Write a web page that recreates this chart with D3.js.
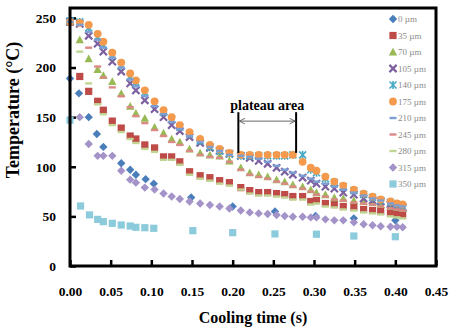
<!DOCTYPE html>
<html>
<head>
<meta charset="utf-8">
<script src="https://cdn.jsdelivr.net/npm/d3@7"></script>
<style>
  body { margin: 0; background: #fff; }
  svg { display: block; font-family: "Liberation Serif", "Times New Roman", serif; }
</style>
</head>
<body>
<div id="chart"></div>
<script>
// shared time base (s) for the densely sampled series
const times = [0.000, 0.012, 0.023, 0.034, 0.041, 0.052, 0.063, 0.074, 0.081, 0.092,
  0.104, 0.115, 0.125, 0.135, 0.147, 0.160, 0.172, 0.184, 0.196, 0.210,
  0.221, 0.232, 0.243, 0.254, 0.264, 0.274, 0.286, 0.296, 0.303, 0.314,
  0.325, 0.336, 0.349, 0.361, 0.372, 0.382, 0.394, 0.402, 0.409];

const temp35 = [null, 191, 176, 166, 157, 146, 139, 131, 128, 122, 119, 110, 110, 105, 95, 91, 89, 86, 84, 79,
  76, 74, 74, 73, 72, 70, 70, 65, 66, 63, 62, 60, 59, 57, 56, 55, 53, 52, 51];
const temp70 = [246, 228, 209, 198, 192, 186, 174, 161, 154, 149, 140, 134, 128, 125, 118, 114, 112, 111, 106, 99,
  94, 92, 90, 87, 85, 82, 80, 77, 74, 72, 69, 68, 66, 65, 64, 62, 60, 59, 58];
const temp105 = [246, 244, 232, 224, 216, 206, 196, 184, 177, 167, 158, 150, 142, 136, 130, 124, 119, 116, 113, 111,
  109, 106, 103, 99, 95, 92, 89, 86, 83, 80, 78, 74, 72, 68, 66, 65, 62, 60, 59];
const temp140 = [247, 246, 240, 231, 223, 212, 202, 191, 185, 175, 164, 155, 148, 140, 133, 126, 120, 116, 113, 111,
  111, 111, 111, 111, 111, 112, 112, 97, 94, 88, 84, 80, 76, 72, 69, 66, 64, 62, 60];
const temp175 = [246, 245, 243, 234, 226, 215, 205, 194, 187, 177, 166, 157, 150, 142, 135, 128, 122, 118, 114, 112,
  112, 112, 112, 112, 112, 112, 105, 99, 96, 90, 85, 81, 77, 73, 70, 67, 65, 63, 62];
const temp210 = [246, 243, 236, 228, 220, 210, 200, 188, 181, 171, 161, 153, 145, 138, 131, 125, 120, 116, 112, 111,
  110, 108, 105, 101, 97, 94, 91, 88, 85, 83, 80, 77, 74, 71, 68, 66, 63, 61, 60];
const temp245 = [null, null, 220, 201, 190, 180, 171, 160, 151, 144, 137, 131, 125, 122, 116, 112, 110, 109, 105, 97,
  92, 90, 88, 85, 83, 80, 78, 75, 72, 70, 67, 66, 64, 63, 62, 60, 58, 57, 56];
const temp280 = [null, 216, 184, 163, 153, 142, 135, 128, 124, 118, 115, 107, 107, 102, 92, 88, 86, 83, 81, 77,
  73, 71, 71, 70, 69, 67, 67, 62, 63, 60, 59, 57, 56, 54, 53, 52, 50, 49, 48];
const temp315 = [null, 150, 123, 111, 111, 111, 96, 87, 84, 79, 77, 73, 70, 67.5, 65, 63, 61.5, 60, 58, 56,
  54, 53, 52.4, 51.4, 50.4, 49.7, 49.7, 49, 49, 47, 46, 46, 44, 42, 41, 40, 39.6, 39.6, 39];

// sparse series with their own time stamps
const times0 = [0, 0.011, 0.023, 0.033, 0.041, 0.063, 0.074, 0.081, 0.093, 0.103, 0.149, 0.200, 0.252, 0.302, 0.349, 0.400];
const temp0 = [189, 174, 150, 133, 120, 103.5, 97, 92, 87.5, 83, 69, 60, 55, 50.5, 48, 46];
const times350 = [0, 0.013, 0.024, 0.034, 0.041, 0.052, 0.063, 0.074, 0.081, 0.092, 0.103, 0.151, 0.200, 0.252, 0.303, 0.349, 0.400];
const temp350 = [147, 60.5, 51.5, 47, 44.7, 43, 41.3, 40.3, 39, 38.6, 38, 35.6, 33.6, 32.3, 32, 30.2, 29.5];

const seriesNames = ["0 µm", "35 µm", "70 µm", "105 µm", "140 µm", "175 µm", "210 µm", "245 µm", "280 µm", "315 µm", "350 µm"];
const xTicks = [0, 0.05, 0.1, 0.15, 0.2, 0.25, 0.3, 0.35, 0.4, 0.45];
const yTicks = [0, 50, 100, 150, 200, 250];
const plateau = [0.207, 0.278];

const series = [
  { name: seriesNames[0], t: times0, v: temp0, color: "#4a7ebb", shape: "diamond" },
  { name: seriesNames[1], t: times, v: temp35, color: "#be4b48", shape: "square" },
  { name: seriesNames[2], t: times, v: temp70, color: "#98b954", shape: "triangle" },
  { name: seriesNames[3], t: times, v: temp105, color: "#7d60a0", shape: "x" },
  { name: seriesNames[4], t: times, v: temp140, color: "#46aac5", shape: "star" },
  { name: seriesNames[5], t: times, v: temp175, color: "#f59a4c", shape: "circle" },
  { name: seriesNames[6], t: times, v: temp210, color: "#7c9fd3", shape: "dash" },
  { name: seriesNames[7], t: times, v: temp245, color: "#dc8886", shape: "dash" },
  { name: seriesNames[8], t: times, v: temp280, color: "#bfd591", shape: "dash" },
  { name: seriesNames[9], t: times, v: temp315, color: "#a393c8", shape: "diamond" },
  { name: seriesNames[10], t: times350, v: temp350, color: "#8ccbdc", shape: "square" }
];

const width = 454, height = 332;
const margin = { left: 70, right: 18, top: 8, bottom: 66 };

const svg = d3.select("#chart").append("svg")
  .attr("width", width)
  .attr("height", height);

const x = d3.scaleLinear().domain([0, 0.45]).range([margin.left, width - margin.right]);
const y = d3.scaleLinear().domain([0, 260]).range([height - margin.bottom, margin.top]);

// marker drawing, centred at 0,0
function drawMarker(g, shape, color) {
  if (shape === "diamond") {
    g.append("path").attr("d", "M0,-4.2L4.2,0L0,4.2L-4.2,0Z").attr("fill", color);
  } else if (shape === "square") {
    g.append("rect").attr("x", -3.6).attr("y", -3.6).attr("width", 7.2).attr("height", 7.2).attr("fill", color);
  } else if (shape === "triangle") {
    g.append("path").attr("d", "M0,-4.2L4.2,3.6L-4.2,3.6Z").attr("fill", color);
  } else if (shape === "circle") {
    g.append("circle").attr("r", 3.9).attr("fill", color);
  } else if (shape === "x") {
    g.append("path").attr("d", "M-3.6,-3.6L3.6,3.6M3.6,-3.6L-3.6,3.6").attr("stroke", color).attr("stroke-width", 2.2);
  } else if (shape === "star") {
    g.append("path").attr("d", "M-3.5,-3.5L3.5,3.5M3.5,-3.5L-3.5,3.5M0,-4L0,4").attr("stroke", color).attr("stroke-width", 1.6);
  } else if (shape === "dash") {
    g.append("rect").attr("x", -3.5).attr("y", -1.2).attr("width", 7).attr("height", 2.4).attr("fill", color);
  }
}

// axes (inside ticks)
const xAxis = svg.append("g")
  .attr("transform", `translate(0,${y(0)})`)
  .call(d3.axisBottom(x).tickValues(xTicks).tickFormat(d3.format(".2f")).tickSize(-6).tickPadding(20));
const yAxis = svg.append("g")
  .attr("transform", `translate(${x(0)},0)`)
  .call(d3.axisLeft(y).tickValues(yTicks).tickFormat(d3.format("d")).tickSize(-6).tickPadding(14));

[xAxis, yAxis].forEach((a) => {
  a.select(".domain").remove();
  a.selectAll(".tick line").attr("stroke", "#000").attr("stroke-width", 2.5);
  a.selectAll(".tick text")
    .attr("fill", "#000")
    .style("font-family", "'Liberation Serif', serif")
    .style("font-weight", "bold")
    .style("font-size", "13.5px");
});

// points
series.forEach((s) => {
  const pts = s.t.map((t, i) => ({ t, v: s.v[i] })).filter((d) => d.v != null);
  svg.append("g").selectAll("g")
    .data(pts)
    .enter().append("g")
    .attr("transform", (d) => `translate(${x(d.t)},${y(d.v)})`)
    .each(function () { drawMarker(d3.select(this), s.shape, s.color); });
});

// plot frame
svg.append("rect")
  .attr("x", x(0)).attr("y", margin.top)
  .attr("width", x(0.45) - x(0)).attr("height", y(0) - margin.top)
  .attr("fill", "none").attr("stroke", "#000").attr("stroke-width", 3);

// plateau annotation
plateau.forEach((t) => {
  svg.append("line")
    .attr("x1", x(t)).attr("x2", x(t))
    .attr("y1", y(155)).attr("y2", y(114))
    .attr("stroke", "#000").attr("stroke-width", 2);
});
svg.append("defs").append("marker")
  .attr("id", "arr").attr("viewBox", "0 0 10 10").attr("refX", 9).attr("refY", 5)
  .attr("markerWidth", 7).attr("markerHeight", 7).attr("orient", "auto-start-reverse")
  .append("path").attr("d", "M1,1L9,5L1,9").attr("fill", "none").attr("stroke", "#555").attr("stroke-width", 1.2);
svg.append("line")
  .attr("x1", x(plateau[0]) + 1).attr("x2", x(plateau[1]) - 1)
  .attr("y1", y(146)).attr("y2", y(146))
  .attr("stroke", "#666").attr("stroke-width", 1)
  .attr("marker-start", "url(#arr)").attr("marker-end", "url(#arr)");
svg.append("text")
  .attr("x", x((plateau[0] + plateau[1]) / 2)).attr("y", y(157))
  .attr("text-anchor", "middle")
  .style("font-weight", "bold").style("font-size", "14px")
  .text("plateau area");

// legend
const legend = svg.append("g");
series.forEach((s, i) => {
  const ly = 19 + i * 16.5;
  const g = legend.append("g").attr("transform", `translate(393,${ly})`);
  drawMarker(g, s.shape, s.color);
  legend.append("text")
    .attr("x", 398).attr("y", ly + 3)
    .attr("fill", "#8a8a8a")
    .style("font-size", "9px")
    .text(s.name);
});

// axis titles
svg.append("text")
  .attr("x", (x(0) + x(0.45)) / 2).attr("y", 323)
  .attr("text-anchor", "middle")
  .style("font-weight", "bold").style("font-size", "16px")
  .text("Cooling time (s)");
svg.append("text")
  .attr("transform", "translate(19,110) rotate(-90)")
  .attr("text-anchor", "middle")
  .style("font-weight", "bold").style("font-size", "18px")
  .text("Temperature (°C)");
</script>
</body>
</html>
